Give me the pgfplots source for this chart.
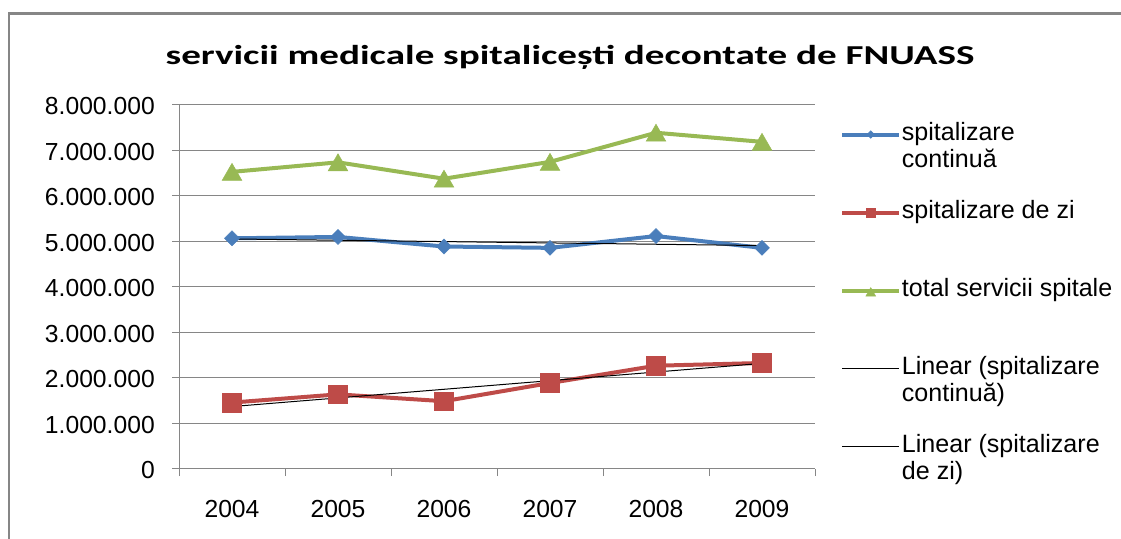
\documentclass[border=0pt]{standalone}
\usepackage{pgfplots}
\pgfplotsset{compat=1.18}
\usepackage{fontspec}
\setmainfont{Liberation Sans}
\newfontfamily\titlefont[FakeStretch=1.43]{Carlito}

\definecolor{serblue}{HTML}{4A7EBB}
\definecolor{serred}{HTML}{BE4B48}
\definecolor{sergreen}{HTML}{98B954}
\definecolor{framegray}{HTML}{868686}

% legend entry: two lines, first line is the baseline
\newcommand\lentry[2]{\vtop{\hbox{\strut#1}\hbox{\strut#2}}}

\begin{document}
\begin{tikzpicture}
\useasboundingbox (0,0) rectangle (840.75pt,404.25pt);
\draw[framegray, line width=1.6pt] (6.5pt,-5pt) -- (6.5pt,394.1pt) -- (850pt,394.1pt);
\begin{axis}[
    at={(134.25pt,52.5pt)}, anchor=south west,
    scale only axis, width=477pt, height=273pt,
    xmin=-0.5, xmax=5.5, ymin=0, ymax=8000000,
    axis lines*=left,
    axis line style={-, framegray, line width=0.75pt},
    tick align=outside,
    major tick length=5.25pt,
    tick style={framegray, line width=0.75pt},
    xtick={-0.5,0.5,1.5,2.5,3.5,4.5,5.5}, xticklabels={},
    extra x ticks={0,1,2,3,4,5},
    extra x tick labels={2004,2005,2006,2007,2008,2009},
    extra x tick style={major tick length=0pt, grid=none},
    ytick={0,1000000,2000000,3000000,4000000,5000000,6000000,7000000,8000000},
    ymajorgrids,
    grid style={framegray, line width=0.75pt},
    scaled y ticks=false,
    tick label style={font=\fontsize{18.5pt}{22pt}\selectfont, inner sep=0pt},
    yticklabel style={anchor=east, xshift=-12.75pt, yshift=-0.8pt,
        /pgf/number format/fixed, /pgf/number format/precision=0,
        /pgf/number format/1000 sep={.}, /pgf/number format/assume math mode=true},
    xticklabel style={anchor=north, yshift=-23.25pt},
    title={servicii medicale spitalicești decontate de FNUASS},
    title style={at={(0.6148,1.0885)}, anchor=base, inner sep=0pt,
        font=\titlefont\bfseries\fontsize{20.5pt}{24pt}\selectfont},
    legend style={at={(1.0393,0.9569)}, anchor=north west, draw=none, fill=none,
        inner sep=0pt, row sep=17.1pt, column sep=0.5pt,
        font=\fontsize{18.8pt}{20.7pt}\selectfont,
        nodes={inner sep=0pt, text height=14.5pt, text depth=26.9pt}},
    legend cell align=left,
    legend image code/.code={
        \draw[yshift=10.5pt, mark repeat=2, mark phase=2, #1]
            plot coordinates {(0pt,0pt) (21.375pt,0pt) (42.75pt,0pt)};},
    legend image post style={every mark/.append style={scale=0.5}},
]

% spitalizare continua
\addplot[serblue, line width=3pt, mark=diamond*, mark size=5.6pt,
    mark options={fill=serblue, draw=serblue, line width=0.4pt, xscale=1.33}]
coordinates {
    (0,5070000) (1,5100000) (2,4890000) (3,4860000) (4,5120000) (5,4860000)
};
\addlegendentry{\lentry{spitalizare}{continuă}}

% spitalizare de zi
\addplot[serred, line width=3pt, mark=square*, mark size=7pt,
    mark options={fill=serred, draw=serred, line width=0.4pt}]
coordinates {
    (0,1460000) (1,1640000) (2,1490000) (3,1890000) (4,2270000) (5,2330000)
};
\addlegendentry{\lentry{spitalizare de zi}{}}

% total
\addplot[sergreen, line width=3pt, mark=triangle*, mark size=8.5pt,
    mark options={fill=sergreen, draw=sergreen, line width=0.4pt, yshift=-2.1pt}]
coordinates {
    (0,6530000) (1,6740000) (2,6380000) (3,6750000) (4,7390000) (5,7190000)
};
\addlegendentry{\lentry{total servicii spitale}{}}

% linear trend lines (end points of the fitted lines)
\addplot[black, line width=0.75pt, mark=none] coordinates {(0,5056200) (5,4910500)};
\addlegendentry{\lentry{Linear (spitalizare}{continuă)}}
\addplot[black, line width=0.75pt, mark=none] coordinates {(0,1372400) (5,2321000)};
\addlegendentry{\lentry{Linear (spitalizare}{de zi)}}

\end{axis}
\end{tikzpicture}
\end{document}
